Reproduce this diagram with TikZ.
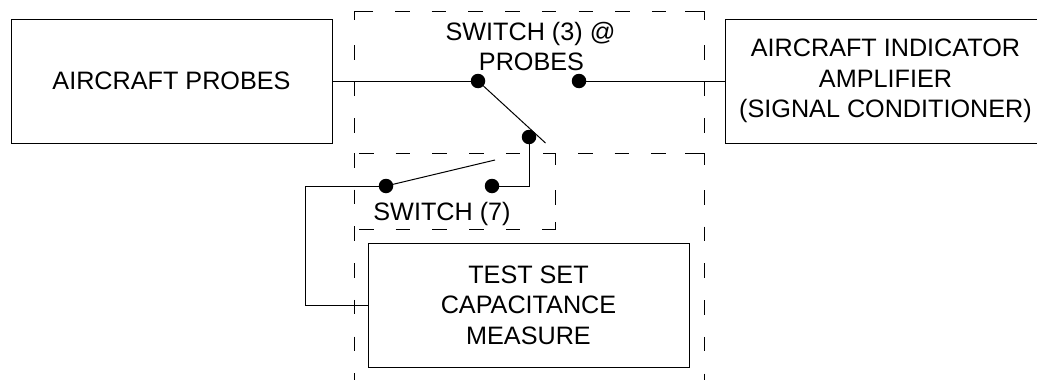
\documentclass[tikz,border=0pt]{standalone}
\usepackage{fontspec}
\setmainfont{Liberation Sans}
\begin{document}
\begin{tikzpicture}[x=1pt,y=-1pt,
  every node/.style={font=\fontsize{25.2}{30.5}\selectfont},
  blockbox/.style={draw=black,line width=1pt,minimum width=321pt,minimum height=124pt,inner sep=0pt,align=center,anchor=center},
  caption/.style={inner sep=0pt,align=center,anchor=base},
  contact/.style={circle,fill=black,draw=none,minimum size=14.5pt,inner sep=0pt},
  wire/.style={draw=black,line width=1pt},
  boundary/.style={draw=black,line width=1pt},
  dashrun/.style={draw=black,line width=1pt,dash pattern=on 14.5pt off 22.2pt}]
\useasboundingbox (0,0) rectangle (1037,380);
\clip (0,0) rectangle (1037,380);
% dashed enclosures
\draw[boundary] (373,11) -- (354,11) -- (354,20);
\draw[boundary] (685,11) -- (704,11) -- (704,20);
\draw[dashrun] (395,11) -- (670,11);
\draw[dashrun] (354,45) -- (354,140);
\draw[dashrun] (704,45) -- (704,140);
\draw[boundary] (685,153) -- (704,153) -- (704,165);
\draw[dashrun] (359,153) -- (540,153);
\draw[boundary] (543,153) -- (555,153) -- (555,165);
\draw[dashrun] (578,153) -- (670,153);
\draw[dashrun] (354,153) -- (354,380);
\draw[dashrun] (704,190) -- (704,380);
\draw[dashrun] (555,190) -- (555,215);
\draw[boundary] (555,222) -- (555,229) -- (542,229);
\draw[dashrun] (359,229) -- (535,229);
% blocks
\node[blockbox] (probes) at (171.5,81) {AIRCRAFT PROBES};
\node[blockbox] (indicator) at (885.5,81) {AIRCRAFT INDICATOR\\AMPLIFIER\\(SIGNAL CONDITIONER)};
\node[blockbox] (testset) at (528.5,305) {TEST SET\\CAPACITANCE\\MEASURE};
% contacts
\node[contact] (a) at (478,81) {};
\node[contact] (b) at (579,81) {};
\node[contact] (c) at (529,137) {};
\node[contact] (d) at (386,186) {};
\node[contact] (e) at (492,186) {};
\coordinate (blade1) at (545.5,143);
\coordinate (blade2) at (495,160);
\coordinate (t1) at (305,186);
\coordinate (t2) at (305,305);
\coordinate (t3) at (529,186);
% wires
\draw[wire] (probes.east) -- (a);
\draw[wire] (b) -- (indicator.west);
\draw[wire] (a.center) -- (blade1);
\draw[wire] (d.center) -- (blade2);
\draw[wire] (c) -- (t3) -- (e);
\draw[wire] (d) -- (t1) -- (t2) -- (testset.west);
% captions
\node[caption] (sw3a) at (530.5,40) {SWITCH (3) @};
\node[caption] (sw3b) at (531.5,70) {PROBES};
\node[caption] (sw7) at (442,220) {SWITCH (7)};
\end{tikzpicture}
\end{document}
